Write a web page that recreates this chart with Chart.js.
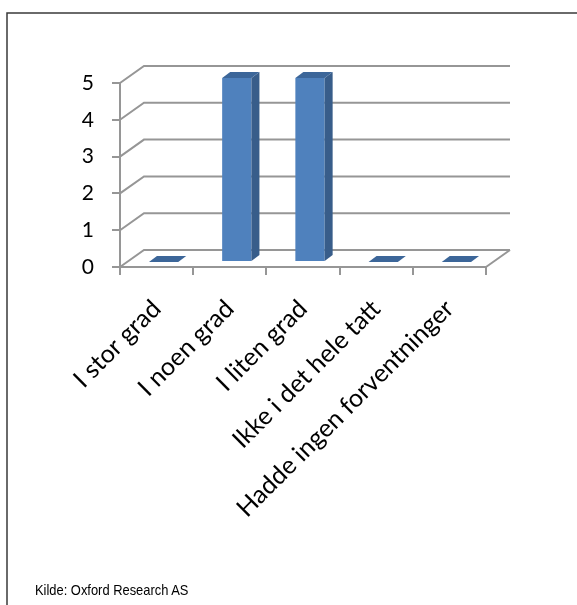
<!DOCTYPE html>
<html>
<head>
<meta charset="utf-8">
<script src="https://cdn.jsdelivr.net/npm/chart.js@4.4.1/dist/chart.umd.min.js"></script>
<style>
  body{margin:0;background:#fff;}
  #wrap{position:relative;width:577px;height:605px;}
  #kilde{position:absolute;left:35px;top:581px;font-family:'Liberation Sans',Arial,sans-serif;font-size:15px;color:#000;transform:scaleX(0.86);transform-origin:left top;white-space:nowrap;}
</style>
</head>
<body>
<div id="wrap">
  <canvas id="graf" width="577" height="605"></canvas>
  <div id="kilde">Kilde: Oxford Research AS</div>
</div>
<script>
const kategorier=['I stor grad','I noen grad','I liten grad','Ikke i det hele tatt','Hadde ingen forventninger'];
const verdier=[0,5,5,0,0];
const yMin=0, yMax=5, ySteg=1;

// dybde for 3D-effekten
const dybdeX=24, dybdeY=-17;
const sokkelX=7, sokkelY=-5;     // hvor langt inn stolpene står
const stolpeX=8, stolpeY=-6;     // stolpens egen dybde
const gridFarge='#969696';

const tredje={
  id:'tredje',
  beforeDraw(chart){
    const c=chart.ctx, a=chart.chartArea, ys=chart.scales.y;
    c.save();
    // ramme
    c.strokeStyle='#3a3a3a'; c.lineWidth=1.5;
    c.beginPath(); c.moveTo(7,605); c.lineTo(7,13); c.lineTo(577,13); c.stroke();
    // gridlinjer bak + skrå
    c.strokeStyle=gridFarge; c.lineWidth=2;
    ys.ticks.forEach(t=>{
      const y=ys.getPixelForValue(t.value);
      c.beginPath();
      c.moveTo(a.left,y);
      c.lineTo(a.left+dybdeX,y+dybdeY);
      c.lineTo(a.right+dybdeX,y+dybdeY);
      c.stroke();
    });
    // gulv høyre kant
    const y0=ys.getPixelForValue(yMin);
    c.beginPath(); c.moveTo(a.right,y0); c.lineTo(a.right+dybdeX,y0+dybdeY); c.stroke();
    c.restore();
  },
  beforeDatasetsDraw(chart){
    chart.ctx.save();
    chart.ctx.translate(sokkelX,sokkelY);
  },
  afterDatasetsDraw(chart){
    const c=chart.ctx;
    chart.getDatasetMeta(0).data.forEach(bar=>{
      const {x,y,base,width}=bar.getProps(['x','y','base','width'],true);
      const l=x-width/2, r=x+width/2;
      // side
      c.fillStyle='#385d8a';
      c.beginPath();
      c.moveTo(r,y); c.lineTo(r+stolpeX,y+stolpeY); c.lineTo(r+stolpeX,base+stolpeY); c.lineTo(r,base);
      c.closePath(); c.fill();
      // topp
      c.fillStyle='#3c6699';
      c.beginPath();
      c.moveTo(l,y); c.lineTo(r,y); c.lineTo(r+stolpeX,y+stolpeY); c.lineTo(l+stolpeX,y+stolpeY);
      c.closePath(); c.fill();
    });
    c.restore();
  }
};

new Chart(document.getElementById('graf').getContext('2d'),{
  type:'bar',
  data:{
    labels:kategorier,
    datasets:[{
      data:verdier,
      backgroundColor:'#4f81bd',
      borderWidth:0,
      barPercentage:0.4,
      categoryPercentage:1
    }]
  },
  options:{
    responsive:false,
    animation:false,
    layout:{padding:{left:0,top:83,right:91,bottom:0}},
    plugins:{legend:{display:false},tooltip:{enabled:false}},
    scales:{
      y:{
        min:yMin,max:yMax,
        ticks:{stepSize:ySteg,padding:18,color:'#000',font:{family:'Lato',size:21}},
        grid:{drawOnChartArea:false,tickLength:8,color:gridFarge,lineWidth:2},
        border:{display:true,color:gridFarge,width:2},
        afterFit(s){s.width=120;}
      },
      x:{
        ticks:{maxRotation:45,minRotation:45,autoSkip:false,padding:19,color:'#000',font:{family:'Lato',size:25}},
        grid:{drawOnChartArea:false,tickLength:8,color:gridFarge,lineWidth:2},
        border:{display:true,color:gridFarge,width:2},
        afterFit(s){s.height=605-267;}
      }
    }
  },
  plugins:[tredje]
});
</script>
</body>
</html>
